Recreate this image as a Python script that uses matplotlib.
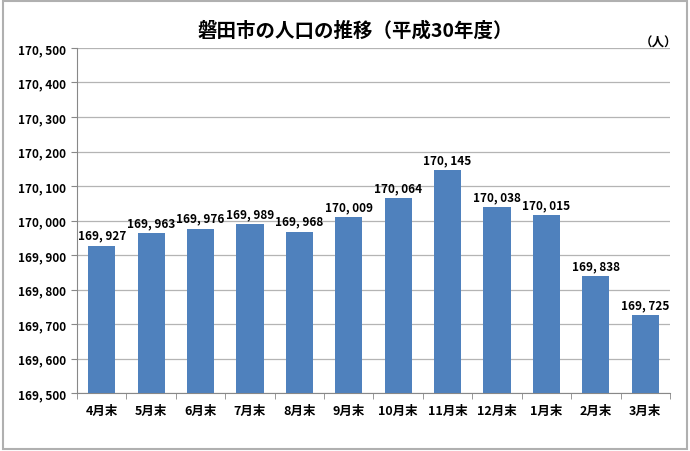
import matplotlib
matplotlib.use("Agg")
import matplotlib.pyplot as plt
from matplotlib.patches import Rectangle

plt.rcParams['font.family'] = ['Noto Sans CJK JP', 'DejaVu Sans']

months = ["4月末", "5月末", "6月末", "7月末", "8月末", "9月末",
          "10月末", "11月末", "12月末", "1月末", "2月末", "3月末"]
population = [169927, 169963, 169976, 169989, 169968, 170009,
              170064, 170145, 170038, 170015, 169838, 169725]
y_ticks = list(range(169500, 170501, 100))


def fmt(v):
    return f"{v:,}".replace(",", ", ")


fig = plt.figure(figsize=(6.9, 4.52), dpi=100)
ax = fig.add_axes([0.1116, 0.1283, 0.8594, 0.7633])

x = list(range(len(months)))
bars = ax.bar(x, population, width=0.55, color="#4F81BD", zorder=3)

for xi, v in zip(x, population):
    ax.annotate(fmt(v), xy=(xi, v), xytext=(0, 3), textcoords="offset points",
                ha="center", va="bottom", fontsize=8.5, fontweight="bold")

ax.set_xlim(-0.5, len(months) - 0.5)
ax.set_ylim(169500, 170500)
ax.set_yticks(y_ticks)
ax.set_yticklabels([fmt(t) for t in y_ticks], fontsize=8.5, fontweight="bold")
ax.set_xticks(x)
ax.set_xticklabels(months, fontsize=9, fontweight="bold")
ax.tick_params(axis="x", length=0, pad=8)
ax.set_xticks([i - 0.5 for i in range(len(months) + 1)], minor=True)
ax.tick_params(axis="x", which="minor", length=4, color="#888888")
ax.tick_params(axis="y", length=4, color="#888888", pad=4)

ax.grid(axis="y", color="#B4B4B4", linewidth=0.9, zorder=0)
for side in ["top", "right"]:
    ax.spines[side].set_visible(False)
ax.spines["left"].set_color("#888888")
ax.spines["bottom"].set_color("#888888")

fig.text(0.515, 0.932, "磐田市の人口の推移（平成30年度）", ha="center", va="center",
         fontsize=14, fontweight="bold")
fig.text(0.955, 0.905, "（人）", ha="center", va="center", fontsize=9, fontweight="bold")

fig.patches.append(Rectangle((0.004, 0.005), 0.992, 0.99, transform=fig.transFigure,
                             fill=False, edgecolor="#B0B0B0", linewidth=1.5))

fig.savefig("out.png", dpi=100)
